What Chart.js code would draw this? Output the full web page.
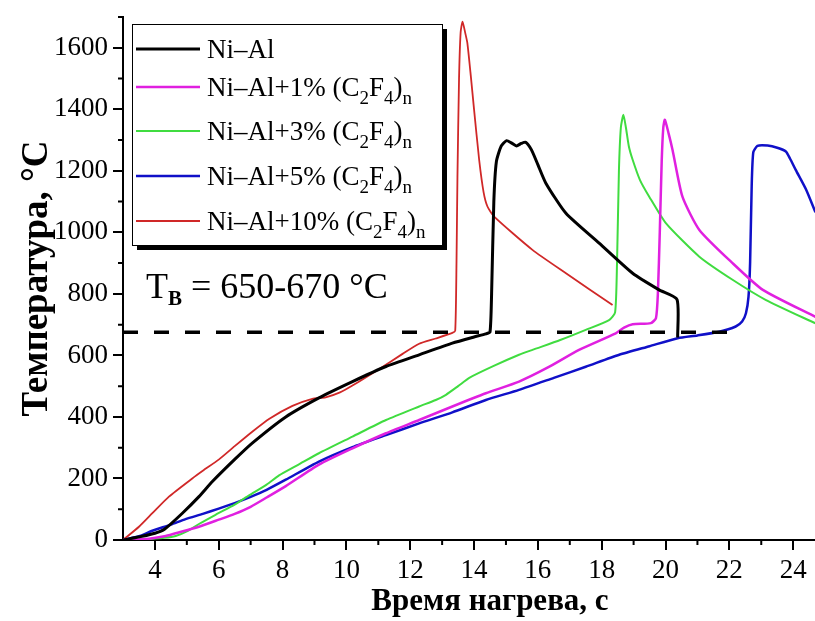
<!DOCTYPE html>
<html>
<head>
<meta charset="utf-8">
<script src="https://cdn.jsdelivr.net/npm/chart.js"></script>
<style>
  html, body { margin: 0; padding: 0; background: #fff; overflow: hidden; }
  #wrap { width: 815px; height: 621px; overflow: hidden; }
</style>
</head>
<body>
<div id="wrap"><canvas id="heatChart" width="857" height="621"></canvas></div>
<script>
// heating curves: time, s  /  temperature, °C
const niAlTime = [3.0, 3.6, 4.0, 4.3, 4.86, 5.38, 5.8, 6.5, 7.05, 8.1, 9.14, 10.19, 11.24, 12.28, 13.32, 14.0, 14.37, 14.5, 14.55, 14.62, 14.7, 14.85, 15.02, 15.18, 15.33, 15.48, 15.62, 15.8, 16.0, 16.25, 16.88, 17.92, 18.97, 19.8, 20.36, 20.38];
const niAlTemp = [0, 12, 22, 35, 87, 141, 190, 262, 315, 400, 462, 515, 564, 602, 640, 660, 670, 676, 800, 1100, 1230, 1280, 1298, 1290, 1281, 1289, 1293, 1268, 1220, 1160, 1062, 965, 867, 813, 782, 658];

const pf1Time = [3.0, 3.5, 3.82, 4.3, 4.65, 5.38, 6.0, 6.5, 7.0, 7.5, 8.1, 9.14, 10.19, 11.24, 12.28, 13.32, 14.37, 15.41, 16.3, 17.29, 18.44, 18.7, 18.97, 19.54, 19.7, 19.76, 19.82, 19.88, 19.93, 19.98, 20.1, 20.22, 20.53, 21.06, 22.1, 23.05, 24.7];
const pf1Temp = [0, 2, 4, 12, 22, 43, 66, 85, 108, 138, 175, 245, 298, 347, 390, 434, 477, 515, 560, 618, 672, 690, 701, 705, 721, 800, 1000, 1230, 1340, 1366, 1320, 1268, 1116, 1008, 900, 813, 725];

const pf3Time = [3.0, 3.5, 3.82, 4.3, 4.65, 5.0, 5.38, 5.9, 6.5, 6.95, 7.5, 7.89, 8.5, 9.14, 10.19, 11.24, 12.28, 12.8, 13.12, 13.5, 13.85, 14.6, 15.41, 15.83, 16.7, 17.5, 18.23, 18.42, 18.48, 18.54, 18.6, 18.68, 18.76, 18.85, 18.97, 19.2, 19.49, 20.01, 21.06, 22.1, 23.15, 24.7];
const pf3Temp = [0, 1, 3, 7, 13, 28, 52, 82, 115, 145, 180, 210, 245, 282, 336, 390, 434, 455, 472, 500, 527, 565, 602, 618, 650, 683, 715, 740, 900, 1200, 1340, 1382, 1340, 1280, 1236, 1170, 1116, 1030, 921, 846, 780, 704];

const pf5Time = [3.0, 3.5, 3.92, 4.5, 4.96, 5.5, 6.0, 6.5, 7.0, 7.5, 8.1, 9.14, 10.19, 11.24, 12.28, 13.32, 14.37, 15.41, 16.5, 17.5, 18.55, 19.5, 20.38, 21.0, 21.68, 22.2, 22.4, 22.52, 22.6, 22.65, 22.7, 22.75, 22.88, 23.2, 23.5, 23.77, 23.9, 24.08, 24.4, 24.7];
const pf5Temp = [0, 12, 30, 50, 68, 85, 102, 120, 140, 163, 196, 255, 302, 341, 379, 415, 455, 488, 527, 563, 602, 630, 656, 665, 677, 694, 710, 737, 790, 900, 1150, 1260, 1281, 1282, 1275, 1263, 1240, 1203, 1140, 1065];

const pf10Time = [3.0, 3.5, 3.92, 4.44, 5.17, 5.5, 6.01, 6.5, 7.05, 7.6, 8.31, 8.93, 9.35, 9.8, 10.19, 11.03, 11.76, 12.28, 12.8, 13.32, 13.41, 13.45, 13.48, 13.53, 13.58, 13.64, 13.72, 13.79, 13.9, 14.0, 14.16, 14.3, 14.42, 14.63, 15.83, 16.88, 18.34];
const pf10Temp = [0, 43, 87, 141, 200, 225, 262, 305, 352, 395, 436, 459, 464, 480, 502, 556, 605, 638, 655, 673, 680, 900, 1180, 1500, 1650, 1685, 1650, 1616, 1507, 1400, 1236, 1130, 1084, 1051, 943, 867, 764];

const seriesLabels = ['Ni–Al', 'Ni–Al+1% (C₂F₄)ₙ', 'Ni–Al+3% (C₂F₄)ₙ', 'Ni–Al+5% (C₂F₄)ₙ', 'Ni–Al+10% (C₂F₄)ₙ'];
const seriesColors = ['#000000', '#e020e0', '#40dc40', '#1010c8', '#d02828'];
const seriesWidths = [3, 2.5, 2, 2.5, 1.8];

// ignition temperature level, °C, and its span on the time axis
const ignitionTemp = 675;
const ignitionRange = [3, 22.36];

const xTickValues = [4, 6, 8, 10, 12, 14, 16, 18, 20, 22, 24];
const yTickValues = [0, 200, 400, 600, 800, 1000, 1200, 1400, 1600];

const serif = "'Liberation Serif', 'Times New Roman', serif";

function toPoints(xs, ys) {
    return xs.map((x, i) => ({ x: x, y: ys[i] }));
}

const seriesData = [
    toPoints(niAlTime, niAlTemp),
    toPoints(pf1Time, pf1Temp),
    toPoints(pf3Time, pf3Temp),
    toPoints(pf5Time, pf5Temp),
    toPoints(pf10Time, pf10Temp),
];

const datasets = [{
    label: 'T_B',
    data: ignitionRange.map(t => ({ x: t, y: ignitionTemp })),
    borderColor: '#000',
    borderWidth: 3.5,
    borderDash: [15, 16],
    tension: 0,
}];
seriesData.forEach((pts, i) => {
    datasets.push({
        label: seriesLabels[i],
        data: pts,
        borderColor: seriesColors[i],
        borderWidth: seriesWidths[i],
    });
});

// text with unicode subscripts drawn as small lowered glyphs
const subMap = { '₂': '2', '₄': '4', 'ₙ': 'n' };
function drawRich(ctx, text, x, y, size) {
    for (const ch of text) {
        const sub = subMap[ch];
        const s = sub || ch;
        ctx.font = (sub ? Math.round(size * 0.7) : size) + 'px ' + serif;
        ctx.fillText(s, x, sub ? y + size * 0.3 : y);
        x += ctx.measureText(s).width;
    }
}

const minorTicks = {
    id: 'minorTicks',
    afterDraw(chart) {
        const { ctx, scales: { x, y } } = chart;
        ctx.save();
        ctx.strokeStyle = '#000';
        ctx.lineWidth = 2;
        ctx.beginPath();
        for (let v = 5; v <= 25; v += 2) {
            const px = x.getPixelForValue(v);
            ctx.moveTo(px, x.top);
            ctx.lineTo(px, x.top + 5);
        }
        for (let v = 100; v <= 1700; v += 200) {
            const py = y.getPixelForValue(v);
            ctx.moveTo(y.right - 5, py);
            ctx.lineTo(y.right, py);
        }
        ctx.stroke();
        ctx.restore();
    }
};

const legendBox = {
    id: 'legendBox',
    afterDraw(chart) {
        const ctx = chart.ctx;
        const bx = 132, by = 24, bw = 310, bh = 221;
        ctx.save();
        ctx.fillStyle = '#000';
        ctx.fillRect(bx + 5, by + 5, bw, bh);
        ctx.fillStyle = '#fff';
        ctx.fillRect(bx, by, bw, bh);
        ctx.strokeStyle = '#000';
        ctx.lineWidth = 1;
        ctx.strokeRect(bx + 0.5, by + 0.5, bw, bh);
        const rows = [49, 87, 131, 176, 221];
        seriesLabels.forEach((lab, i) => {
            ctx.strokeStyle = seriesColors[i];
            ctx.lineWidth = seriesWidths[i];
            ctx.beginPath();
            ctx.moveTo(136, rows[i]);
            ctx.lineTo(200, rows[i]);
            ctx.stroke();
            ctx.fillStyle = '#000';
            ctx.textBaseline = 'alphabetic';
            drawRich(ctx, lab, 207, rows[i] + 9, 27);
        });
        ctx.restore();
    }
};

const ignitionNote = {
    id: 'ignitionNote',
    afterDraw(chart) {
        const ctx = chart.ctx;
        ctx.save();
        ctx.fillStyle = '#000';
        ctx.textBaseline = 'alphabetic';
        let x = 146;
        ctx.font = '36px ' + serif;
        ctx.fillText('T', x, 298);
        x += ctx.measureText('T').width;
        ctx.font = 'bold 21px ' + serif;
        ctx.fillText('B', x, 305);
        x += ctx.measureText('B').width;
        ctx.font = '36px ' + serif;
        ctx.fillText(' = 650-670 °C', x, 298);
        ctx.restore();
    }
};

const config = {
    type: 'line',
    data: { datasets: datasets },
    options: {
        responsive: false,
        animation: false,
        devicePixelRatio: 1,
        layout: { padding: { top: 17, right: 0, bottom: 0, left: 0 } },
        elements: {
            point: { radius: 0 },
            line: { tension: 0.2 },
        },
        plugins: {
            legend: { display: false },
            tooltip: { enabled: false },
        },
        scales: {
            x: {
                type: 'linear',
                min: 3,
                max: 26,
                afterBuildTicks: s => { s.ticks = xTickValues.map(v => ({ value: v })); },
                afterFit: s => { s.height = 81; s.paddingLeft = 0; s.paddingRight = 0; },
                border: { color: '#000', width: 2 },
                grid: { drawOnChartArea: false, tickLength: 10, color: '#000', lineWidth: 2 },
                ticks: { color: '#000', font: { family: serif, size: 27 }, padding: 5, maxRotation: 0, autoSkip: false, callback: v => String(v) },
                title: {
                    display: true,
                    text: 'Время нагрева, с',
                    color: '#000',
                    font: { family: serif, size: 31, weight: 'bold' },
                    padding: { top: 0, bottom: 0 },
                },
            },
            y: {
                min: 0,
                max: 1700,
                afterBuildTicks: s => { s.ticks = yTickValues.map(v => ({ value: v })); },
                afterFit: s => { s.width = 123; s.paddingTop = 0; s.paddingBottom = 0; },
                border: { color: '#000', width: 2 },
                grid: { drawOnChartArea: false, tickLength: 10, color: '#000', lineWidth: 2 },
                ticks: { color: '#000', font: { family: serif, size: 27 }, padding: 5, callback: v => String(v) },
                title: {
                    display: true,
                    text: 'Температура, °C',
                    color: '#000',
                    font: { family: serif, size: 37, weight: 'bold' },
                    padding: { top: 15, bottom: 0 },
                },
            },
        },
    },
    plugins: [minorTicks, legendBox, ignitionNote],
};

const ctx = document.getElementById('heatChart').getContext('2d');
new Chart(ctx, config);
</script>
</body>
</html>
